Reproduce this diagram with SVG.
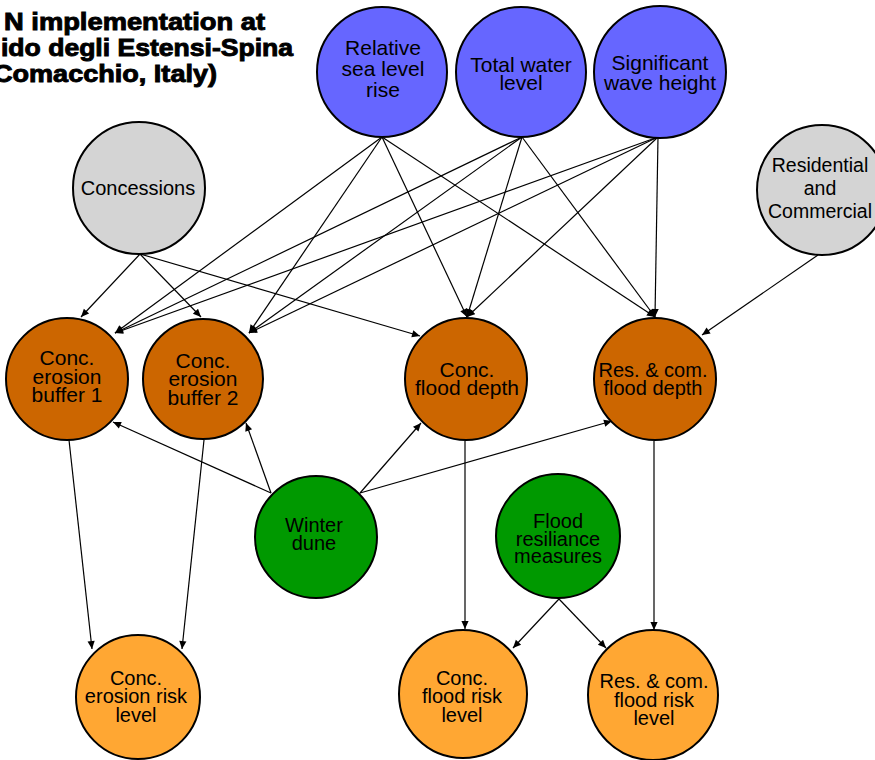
<svg xmlns="http://www.w3.org/2000/svg" width="875" height="760" viewBox="0 0 875 760">
<style>
.n{stroke:#000;stroke-width:2}
.blue{fill:#6666FF}
.gray{fill:#D4D4D4}
.org{fill:#CC6600}
.grn{fill:#009900}
.lor{fill:#FFA733}
text{font-family:"Liberation Sans",Arial,sans-serif;fill:#000;text-anchor:middle}
.t21{font-size:21px}
.t20{font-size:20px}
.t19{font-size:19.5px}
.title{font-family:"Liberation Sans",Arial,sans-serif;font-weight:bold;font-size:23px;text-anchor:start;stroke:#000;stroke-width:0.9}
.e{stroke:#000;stroke-width:1.2;fill:none;marker-end:url(#ah)}
</style>
<defs>
<marker id="ah" viewBox="0 0 10 10" refX="10" refY="5" markerWidth="9" markerHeight="8" markerUnits="userSpaceOnUse" orient="auto">
<path d="M0,0.5 L10,5 L0,9.5 z" fill="#000"/>
</marker>
</defs>
<rect width="875" height="760" fill="#fff"/>
<g id="title">
<text class="title" x="4" y="30" textLength="261" lengthAdjust="spacingAndGlyphs">N implementation at</text>
<text class="title" x="1" y="56" textLength="292" lengthAdjust="spacingAndGlyphs">ido degli Estensi-Spina</text>
<text class="title" x="-7" y="82" textLength="224" lengthAdjust="spacingAndGlyphs">Comacchio, Italy)</text>
</g>
<g id="connectors">
<line class="e" x1="382" y1="137" x2="115" y2="333"/>
<line class="e" x1="382" y1="137" x2="249" y2="333"/>
<line class="e" x1="382" y1="137" x2="467" y2="317"/>
<line class="e" x1="382" y1="137" x2="655" y2="317"/>
<line class="e" x1="522" y1="137" x2="115" y2="333"/>
<line class="e" x1="522" y1="137" x2="249" y2="333"/>
<line class="e" x1="522" y1="137" x2="467" y2="317"/>
<line class="e" x1="522" y1="137" x2="655" y2="317"/>
<line class="e" x1="658" y1="137" x2="115" y2="333"/>
<line class="e" x1="658" y1="137" x2="249" y2="333"/>
<line class="e" x1="658" y1="137" x2="467" y2="317"/>
<line class="e" x1="658" y1="137" x2="655" y2="317"/>
<line class="e" x1="140" y1="254" x2="81" y2="317"/>
<line class="e" x1="140" y1="254" x2="201" y2="317"/>
<line class="e" x1="140" y1="254" x2="420" y2="336"/>
<line class="e" x1="818" y1="255" x2="702" y2="335"/>
<line class="e" x1="271" y1="493" x2="113" y2="422"/>
<line class="e" x1="271" y1="493" x2="246" y2="423"/>
<line class="e" x1="360" y1="493" x2="421" y2="423"/>
<line class="e" x1="360" y1="493" x2="612" y2="421"/>
<line class="e" x1="69" y1="440" x2="92" y2="649"/>
<line class="e" x1="204" y1="440" x2="182" y2="649"/>
<line class="e" x1="465" y1="441" x2="465" y2="629"/>
<line class="e" x1="654" y1="441" x2="654" y2="630"/>
<line class="e" x1="559" y1="599" x2="513" y2="648"/>
<line class="e" x1="559" y1="599" x2="606" y2="648"/>
</g>
<g id="relative-sea-level-rise">
<circle class="n blue" cx="382" cy="72" r="65"/>
<text class="t21" x="383" y="55">Relative</text>
<text class="t21" x="383" y="76">sea level</text>
<text class="t21" x="383" y="97">rise</text>
</g>
<g id="total-water-level">
<circle class="n blue" cx="521" cy="72" r="65"/>
<text class="t21" x="521" y="72">Total water</text>
<text class="t21" x="521" y="90">level</text>
</g>
<g id="significant-wave-height">
<circle class="n blue" cx="660" cy="72" r="66"/>
<text class="t21" x="660" y="70">Significant</text>
<text class="t21" x="660" y="90">wave height</text>
</g>
<g id="concessions">
<circle class="n gray" cx="139" cy="188" r="66"/>
<text class="t20" x="138" y="195">Concessions</text>
</g>
<g id="residential-commercial">
<circle class="n gray" cx="822" cy="190" r="65"/>
<text class="t19" x="820" y="172">Residential</text>
<text class="t19" x="820" y="195">and</text>
<text class="t19" x="820" y="218">Commercial</text>
</g>
<g id="conc-erosion-buffer-1">
<circle class="n org" cx="67" cy="379" r="61"/>
<text class="t21" x="67" y="365">Conc.</text>
<text class="t21" x="67" y="384">erosion</text>
<text class="t21" x="67" y="402">buffer 1</text>
</g>
<g id="conc-erosion-buffer-2">
<circle class="n org" cx="203" cy="379" r="60"/>
<text class="t21" x="203" y="368">Conc.</text>
<text class="t21" x="203" y="386">erosion</text>
<text class="t21" x="203" y="405">buffer 2</text>
</g>
<g id="conc-flood-depth">
<circle class="n org" cx="466" cy="379" r="61"/>
<text class="t21" x="467" y="377">Conc.</text>
<text class="t21" x="467" y="395">flood depth</text>
</g>
<g id="res-com-flood-depth">
<circle class="n org" cx="655" cy="379" r="61"/>
<text class="t20" x="653" y="377">Res. &amp; com.</text>
<text class="t20" x="653" y="395">flood depth</text>
</g>
<g id="winter-dune">
<circle class="n grn" cx="316" cy="537" r="61"/>
<text class="t20" x="314" y="532">Winter</text>
<text class="t20" x="314" y="550">dune</text>
</g>
<g id="flood-resiliance-measures">
<circle class="n grn" cx="558" cy="536" r="62"/>
<text class="t20" x="558" y="528">Flood</text>
<text class="t20" x="558" y="546">resiliance</text>
<text class="t20" x="558" y="563">measures</text>
</g>
<g id="conc-erosion-risk-level">
<circle class="n lor" cx="138" cy="697" r="62"/>
<text class="t20" x="136" y="685">Conc.</text>
<text class="t20" x="136" y="703">erosion risk</text>
<text class="t20" x="136" y="722">level</text>
</g>
<g id="conc-flood-risk-level">
<circle class="n lor" cx="463" cy="694" r="64"/>
<text class="t20" x="462" y="685">Conc.</text>
<text class="t20" x="462" y="703">flood risk</text>
<text class="t20" x="462" y="722">level</text>
</g>
<g id="res-com-flood-risk-level">
<circle class="n lor" cx="653" cy="695" r="65"/>
<text class="t20" x="654" y="688">Res. &amp; com.</text>
<text class="t20" x="654" y="707">flood risk</text>
<text class="t20" x="654" y="725">level</text>
</g>
</svg>
